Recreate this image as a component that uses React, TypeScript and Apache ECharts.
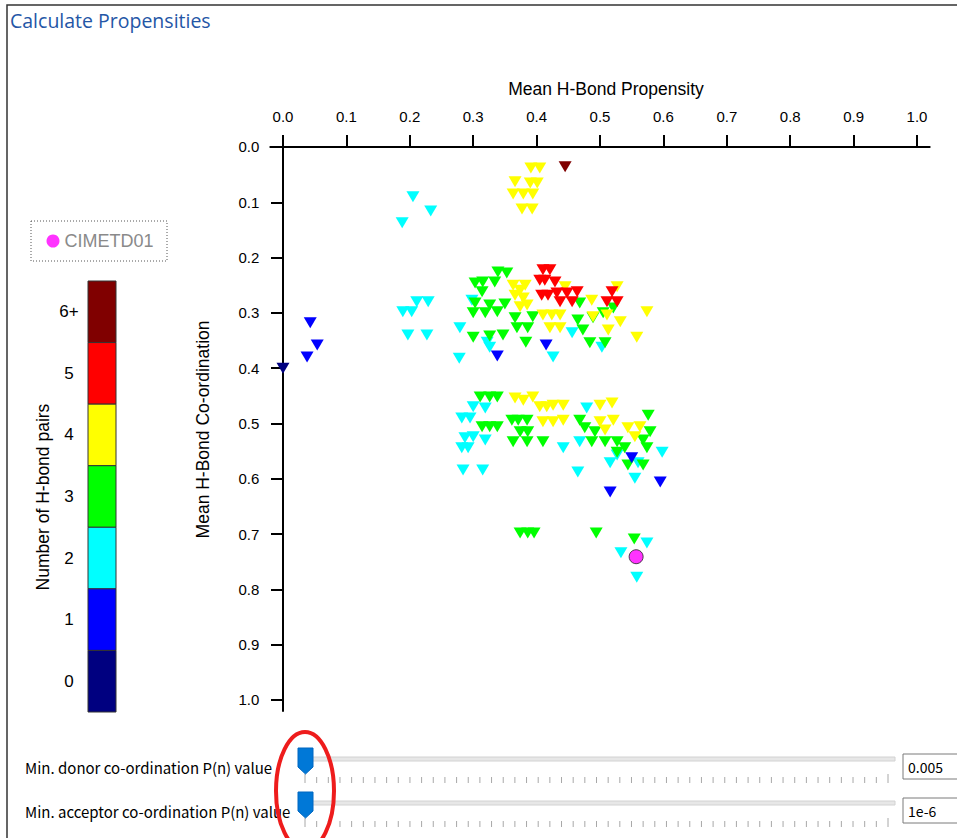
import React, { useEffect, useRef } from "react";
import * as echarts from "echarts";

// Axis tick values (both axes)
const axisTicks = [0, 0.1, 0.2, 0.3, 0.4, 0.5, 0.6, 0.7, 0.8, 0.9, 1.0];

// Number-of-H-bond-pairs categories (colour bar)
const pairLabels = ["0", "1", "2", "3", "4", "5", "6+"];
const pairColors = ["#000080", "#0000ff", "#00ffff", "#00ff00", "#ffff00", "#ff0000", "#800000"];

// [mean propensity, mean co-ordination]
const pairs0 = [[0.0, 0.4]];
const pairs1 = [
  [0.043, 0.318], [0.054, 0.358], [0.038, 0.38], [0.338, 0.378], [0.415, 0.358],
  [0.516, 0.624], [0.595, 0.606], [0.55, 0.562],
];
const pairs2 = [
  [0.205, 0.09], [0.233, 0.116], [0.188, 0.137],
  [0.211, 0.28], [0.229, 0.28], [0.189, 0.298], [0.203, 0.298], [0.197, 0.34], [0.227, 0.34],
  [0.279, 0.327], [0.278, 0.382], [0.298, 0.277], [0.322, 0.353], [0.326, 0.362],
  [0.456, 0.336], [0.426, 0.38], [0.503, 0.362],
  [0.3, 0.47], [0.319, 0.472], [0.282, 0.49], [0.295, 0.49], [0.287, 0.526], [0.3, 0.524],
  [0.319, 0.53], [0.282, 0.544], [0.292, 0.544], [0.284, 0.584], [0.315, 0.584],
  [0.442, 0.544], [0.465, 0.588], [0.479, 0.472], [0.468, 0.533], [0.516, 0.571],
  [0.527, 0.557], [0.555, 0.599], [0.598, 0.552], [0.56, 0.571],
  [0.574, 0.716], [0.533, 0.734], [0.558, 0.778],
];
const pairs3 = [
  [0.339, 0.226], [0.353, 0.228], [0.303, 0.246], [0.315, 0.244], [0.334, 0.244], [0.314, 0.262],
  [0.303, 0.282], [0.326, 0.286], [0.35, 0.284], [0.3, 0.3], [0.319, 0.3], [0.338, 0.298],
  [0.3, 0.344], [0.326, 0.342], [0.347, 0.34], [0.366, 0.309], [0.369, 0.327], [0.386, 0.327],
  [0.394, 0.307], [0.383, 0.353], [0.465, 0.313], [0.473, 0.331], [0.484, 0.354], [0.508, 0.354],
  [0.489, 0.309], [0.505, 0.3], [0.521, 0.291], [0.468, 0.282],
  [0.311, 0.452], [0.326, 0.452], [0.338, 0.452], [0.314, 0.506], [0.326, 0.506], [0.338, 0.506],
  [0.361, 0.494], [0.371, 0.494], [0.385, 0.494], [0.374, 0.515], [0.386, 0.515], [0.363, 0.533],
  [0.385, 0.533], [0.41, 0.533], [0.468, 0.494], [0.476, 0.508], [0.492, 0.515], [0.487, 0.533],
  [0.508, 0.533], [0.527, 0.533], [0.527, 0.552], [0.539, 0.544], [0.544, 0.575], [0.568, 0.575],
  [0.576, 0.485], [0.579, 0.515], [0.568, 0.53], [0.574, 0.544],
  [0.374, 0.698], [0.386, 0.698], [0.396, 0.698], [0.494, 0.698], [0.554, 0.709],
];
const pairs4 = [
  [0.391, 0.038], [0.405, 0.038], [0.366, 0.063], [0.39, 0.065], [0.401, 0.065],
  [0.363, 0.085], [0.379, 0.085], [0.394, 0.085], [0.377, 0.112], [0.393, 0.112],
  [0.363, 0.25], [0.374, 0.259], [0.366, 0.268], [0.379, 0.273], [0.374, 0.289], [0.385, 0.286],
  [0.382, 0.25], [0.41, 0.304], [0.424, 0.304], [0.437, 0.304], [0.421, 0.327], [0.437, 0.327],
  [0.445, 0.253], [0.487, 0.277], [0.489, 0.307], [0.511, 0.304], [0.513, 0.331], [0.532, 0.316],
  [0.527, 0.253], [0.574, 0.298], [0.558, 0.344],
  [0.366, 0.454], [0.379, 0.458], [0.394, 0.452], [0.405, 0.47], [0.416, 0.47], [0.426, 0.467],
  [0.442, 0.467], [0.41, 0.497], [0.426, 0.497], [0.442, 0.494], [0.5, 0.467], [0.519, 0.463],
  [0.5, 0.497], [0.521, 0.494], [0.508, 0.512], [0.544, 0.508], [0.563, 0.506], [0.555, 0.524],
];
const pairs5 = [
  [0.41, 0.222], [0.421, 0.222], [0.405, 0.241], [0.413, 0.241], [0.429, 0.244],
  [0.408, 0.268], [0.418, 0.268], [0.432, 0.264], [0.448, 0.264], [0.464, 0.262],
  [0.437, 0.28], [0.456, 0.28], [0.519, 0.262], [0.511, 0.28], [0.527, 0.28],
];
const pairs6 = [[0.445, 0.036]];
const refName = "CIMETD01";
const refPoint = [[0.557, 0.741]];

const pairSeries = [pairs0, pairs1, pairs2, pairs3, pairs4, pairs5, pairs6];
const drawOrder = [2, 3, 4, 5, 6, 0, 1];

const FONT = "'Liberation Sans', Arial, sans-serif";
const UIFONT = "'Noto Sans CJK JP', 'Noto Sans', sans-serif";

function buildGraphics() {
  const g: any[] = [];
  // window frame
  g.push({ type: "rect", shape: { x: 7, y: 5, width: 1200, height: 1200 }, style: { fill: "none", stroke: "#333", lineWidth: 1.5 }, silent: true });
  g.push({ type: "text", x: 10, y: 20, style: { text: "Calculate Propensities", fill: "#2456a6", font: `19.5px 'Open Sans', 'Noto Sans', sans-serif`, align: "left", verticalAlign: "middle", textAlign: "left", textVerticalAlign: "middle" } });
  // legend box (dotted)
  g.push({ type: "rect", shape: { x: 31, y: 221, width: 136, height: 40 }, style: { fill: "none", stroke: "#555", lineWidth: 1, lineDash: [1, 2] } });
  // colour bar
  const barX = 88, barW = 28, barTop = 281, barBottom = 712;
  const segH = (barBottom - barTop) / pairLabels.length;
  pairLabels.forEach((lab, i) => {
    const idx = pairLabels.length - 1 - i;
    const y = barTop + i * segH;
    g.push({ type: "rect", shape: { x: barX, y, width: barW, height: segH }, style: { fill: pairColors[idx], stroke: "#333", lineWidth: 1 } });
    g.push({ type: "text", x: 69, y: y + segH / 2, style: { text: pairLabels[idx], fill: "#000", font: `17px ${FONT}`, align: "center", verticalAlign: "middle", textAlign: "center", textVerticalAlign: "middle" } });
  });
  g.push({ type: "text", x: 43, y: 497, rotation: Math.PI / 2, style: { text: "Number of H-bond pairs", fill: "#000", font: `17.5px ${FONT}`, align: "center", verticalAlign: "middle", textAlign: "center", textVerticalAlign: "middle" } });

  // sliders
  const sliders = [
    { label: "Min. donor co-ordination P(n) value", value: "0.005", y: 0 },
    { label: "Min. acceptor co-ordination P(n) value", value: "1e-6", y: 44 },
  ];
  sliders.forEach((s) => {
    const dy = s.y;
    g.push({ type: "text", x: 25, y: 767 + dy, style: { text: s.label, fill: "#000", font: `15px ${UIFONT}`, align: "left", verticalAlign: "middle", textAlign: "left", textVerticalAlign: "middle" } });
    g.push({ type: "rect", shape: { x: 300, y: 757 + dy, width: 595, height: 4 }, style: { fill: "#e7e7e7", stroke: "#d2d2d2", lineWidth: 1 } });
    for (let i = 0; i <= 50; i++) {
      const x = 305 + i * 11.66;
      const long = i === 0 || i === 50;
      g.push({ type: "line", shape: { x1: x, y1: (long ? 774 : 777) + dy, x2: x, y2: 783 + dy }, style: { stroke: "#a8a8a8", lineWidth: 1 } });
    }
    g.push({ type: "polygon", shape: { points: [[298, 748 + dy], [313, 748 + dy], [313, 767 + dy], [305.5, 774 + dy], [298, 767 + dy]] }, style: { fill: "#0078d7", stroke: "#0067c0", lineWidth: 1 } });
    g.push({ type: "rect", shape: { x: 903, y: 754 + dy, width: 70, height: 25 }, style: { fill: "#fff", stroke: "#7a7a7a", lineWidth: 1 } });
    g.push({ type: "text", x: 908, y: 767 + dy, style: { text: s.value, fill: "#000", font: `14px ${UIFONT}`, align: "left", verticalAlign: "middle", textAlign: "left", textVerticalAlign: "middle" } });
  });
  // red highlight ellipse
  g.push({ type: "ellipse", z: 100, shape: { cx: 305, cy: 791, rx: 29, ry: 59 }, style: { fill: "none", stroke: "#ee1c1c", lineWidth: 4 } });
  return g;
}

export default function App() {
  const ref = useRef<HTMLDivElement>(null);
  useEffect(() => {
    if (!ref.current) return;
    const chart = echarts.init(ref.current, undefined, { renderer: "svg" });
    const fmt = (v: number) => v.toFixed(1);
    const series: any[] = drawOrder.map((k) => ({
      name: `${pairLabels[k]} H-bond pairs`,
      type: "scatter",
      data: pairSeries[k],
      symbol: "triangle",
      symbolRotate: 180,
      symbolSize: [13, 11],
      itemStyle: { color: pairColors[k], opacity: 1 },
      emphasis: { disabled: true },
    }));
    series.push({
      name: refName,
      type: "scatter",
      data: refPoint,
      symbol: "circle",
      symbolSize: 14,
      itemStyle: { color: "#ff00ff", borderColor: "#222", borderWidth: 1 },
      z: 10,
    });
    chart.setOption({
      animation: false,
      backgroundColor: "#ffffff",
      grid: { left: 270.3, top: 135.9, width: 659.4, height: 575.1, containLabel: false },
      legend: {
        data: [refName],
        left: 46.5,
        top: 232,
        icon: "circle",
        itemWidth: 13,
        itemHeight: 13,
        padding: 0,
        selectedMode: false,
        itemStyle: { borderWidth: 0 },
        textStyle: { color: "#8a8a8a", fontSize: 18, fontFamily: FONT },
      },
      xAxis: {
        type: "value",
        position: "top",
        min: -0.02,
        max: 1.02,
        name: "Mean H-Bond Propensity",
        nameLocation: "middle",
        nameGap: 38,
        nameTextStyle: { color: "#000", fontSize: 17.5, fontFamily: FONT, padding: [0, 0, 0, 12] },
        axisLine: { onZero: true, lineStyle: { color: "#000", width: 2 } },
        axisTick: { show: true, length: 12, lineStyle: { color: "#000", width: 2 }, customValues: axisTicks },
        axisLabel: { customValues: axisTicks, formatter: fmt, margin: 12, color: "#000", fontSize: 15, fontFamily: FONT },
        splitLine: { show: false },
      },
      yAxis: {
        type: "value",
        inverse: true,
        min: -0.02,
        max: 1.02,
        name: "Mean H-Bond Co-ordination",
        nameLocation: "middle",
        nameGap: 58,
        nameTextStyle: { color: "#000", fontSize: 17.5, fontFamily: FONT, padding: [0, 12, 0, 0] },
        axisLine: { onZero: true, lineStyle: { color: "#000", width: 2 } },
        axisTick: { show: true, length: 12, lineStyle: { color: "#000", width: 2 }, customValues: axisTicks },
        axisLabel: { customValues: axisTicks, formatter: fmt, margin: 11, color: "#000", fontSize: 15, fontFamily: FONT },
        splitLine: { show: false },
      },
      graphic: buildGraphics(),
      series,
    });
    return () => chart.dispose();
  }, []);
  return (
    <div
      ref={ref}
      style={{ position: "fixed", left: 0, top: 0, width: 957, height: 838, background: "#fff" }}
    />
  );
}
